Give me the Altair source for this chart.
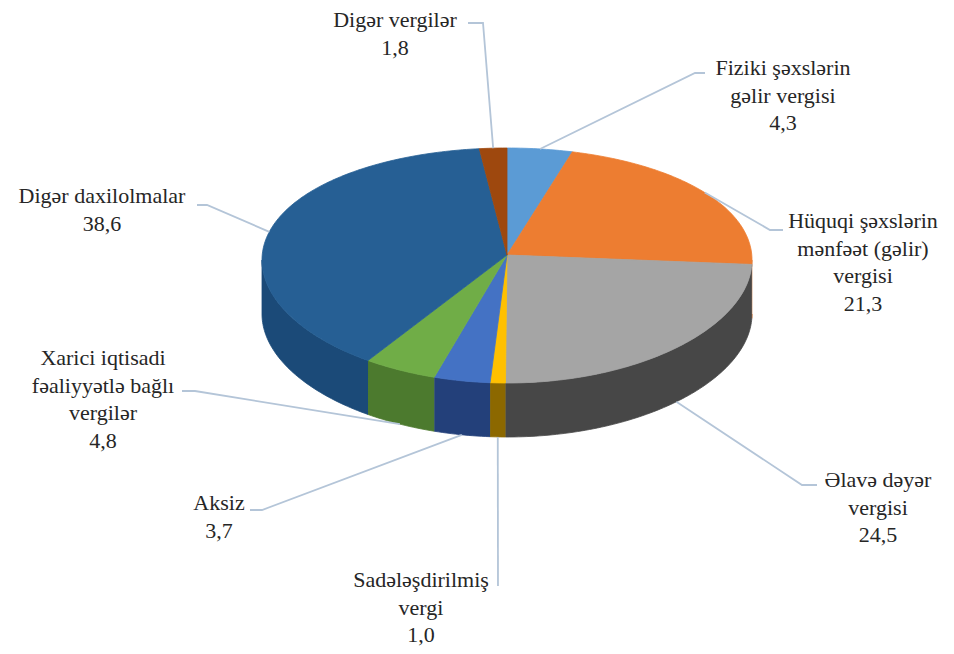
import math
import altair as alt
import pandas as pd

# ---------------- data ----------------
categories = [
    "Fiziki şəxslərin gəlir vergisi",
    "Hüquqi şəxslərin mənfəət (gəlir) vergisi",
    "Əlavə dəyər vergisi",
    "Sadələşdirilmiş vergi",
    "Aksiz",
    "Xarici iqtisadi fəaliyyətlə bağlı vergilər",
    "Digər daxilolmalar",
    "Digər vergilər",
]
values = [4.3, 21.3, 24.5, 1.0, 3.7, 4.8, 38.6, 1.8]
label_lines = [
    ["Fiziki şəxslərin", "gəlir vergisi"],
    ["Hüquqi şəxslərin", "mənfəət (gəlir)", "vergisi"],
    ["Əlavə dəyər", "vergisi"],
    ["Sadələşdirilmiş", "vergi"],
    ["Aksiz"],
    ["Xarici iqtisadi", "fəaliyyətlə bağlı", "vergilər"],
    ["Digər daxilolmalar"],
    ["Digər vergilər"],
]

# ---------------- styles / layout ----------------
top_colors = ["#5B9BD5", "#ED7D31", "#A5A5A5", "#FFC000", "#4472C4", "#70AD47", "#265F94", "#9E480E"]
wall_colors = ["#3F76A8", "#B65A1A", "#474747", "#8C6800", "#23407A", "#4C7A2E", "#1B4A78", "#7A3508"]
PIE = dict(cx=507, cy=265.5, a=245, b=117.5, persp=5.5, depth=54, apex=(507, 255))
label_pos = [(783, 75), (863, 228), (878, 487), (421, 587), (219, 510), (103, 365), (102, 203), (395, 27)]
leader_anchor = ["top", "top", "bottom", "bottom", "bottom", "bottom", "top", "top"]
leader_path = [
    [(695, 73), (705, 73)],
    [(770, 230), (783, 230)],
    [(802, 485), (817, 485)],
    [(498, 586)],
    [(262, 510), (250, 510)],
    [(195, 391), (182, 391)],
    [(207, 205), (197, 205)],
    [(483, 23), (468, 23)],
]
FONT = "Liberation Serif, DejaVu Serif, serif"
LEADER = "#B4C5D8"


def edge(t_deg, bottom=False):
    t = math.radians(t_deg)
    x = PIE["cx"] + PIE["a"] * math.sin(t)
    y = PIE["cy"] - PIE["b"] * math.cos(t) - PIE["persp"] * math.sin(t) ** 2
    if bottom:
        y += PIE["depth"]
    return x, y


total = sum(values)
starts, ends = [], []
acc = 0.0
for v in values:
    starts.append(acc / total * 360)
    acc += v
    ends.append(acc / total * 360)

wall_rows = []
for k, (s, e) in enumerate(zip(starts, ends)):
    a0, a1 = max(s, 90), min(e, 270)
    if a1 <= a0:
        continue
    n = max(2, int((a1 - a0) / 1.0) + 1)
    ts = [a0 + (a1 - a0) * j / (n - 1) for j in range(n)]
    pts = [edge(t) for t in ts] + [edge(t, True) for t in reversed(ts)]
    for i, (x, y) in enumerate(pts):
        wall_rows.append(dict(poly=f"w{k}", key=f"wall{k}", i=i, x=x, y=y))

top_rows = []
for k, (s, e) in enumerate(zip(starts, ends)):
    n = max(2, int((e - s) / 1.0) + 1)
    ts = [s + (e - s) * j / (n - 1) for j in range(n)]
    pts = [PIE["apex"]] + [edge(t) for t in ts] + [PIE["apex"]]
    for i, (x, y) in enumerate(pts):
        top_rows.append(dict(poly=f"t{k}", key=f"top{k}", i=i, x=x, y=y))

lead_rows = []
for k, (s, e) in enumerate(zip(starts, ends)):
    mid = (s + e) / 2
    p0 = edge(mid, leader_anchor[k] == "bottom")
    pts = [p0] + leader_path[k]
    for i, (x, y) in enumerate(pts):
        lead_rows.append(dict(poly=f"l{k}", i=i, x=x, y=y))

text_rows = []
for k in range(len(values)):
    lines = label_lines[k] + [f"{values[k]:.1f}".replace(".", ",")]
    text_rows.append(dict(x=label_pos[k][0], y=label_pos[k][1], txt="\n".join(lines)))

keys = [f"top{k}" for k in range(len(values))] + [f"wall{k}" for k in range(len(values))]
cols = top_colors + wall_colors
cscale = alt.Scale(domain=keys, range=cols)

X = alt.X("x:Q", scale=alt.Scale(domain=[8, 946], nice=False, zero=False), axis=None)
Y = alt.Y("y:Q", scale=alt.Scale(domain=[8, 646], nice=False, zero=False, reverse=True), axis=None)

walls = alt.Chart(pd.DataFrame(wall_rows)).mark_line(filled=True, strokeWidth=0.8).encode(
    x=X, y=Y, detail="poly:N", order="i:Q",
    color=alt.Color("key:N", scale=cscale, legend=None),
    stroke=alt.Stroke("key:N", scale=cscale, legend=None),
)
tops = alt.Chart(pd.DataFrame(top_rows)).mark_line(filled=True, strokeWidth=0.8).encode(
    x=X, y=Y, detail="poly:N", order="i:Q",
    color=alt.Color("key:N", scale=cscale, legend=None),
    stroke=alt.Stroke("key:N", scale=cscale, legend=None),
)
leaders = alt.Chart(pd.DataFrame(lead_rows)).mark_line(color=LEADER, strokeWidth=1.8).encode(
    x=X, y=Y, detail="poly:N", order="i:Q",
)
labels = alt.Chart(pd.DataFrame(text_rows)).mark_text(
    font=FONT, fontSize=22, color="#262626", align="center", baseline="alphabetic",
    lineBreak="\n", lineHeight=27.5,
).encode(x=X, y=Y, text="txt:N")

chart = alt.layer(walls, tops, leaders, labels).properties(
    width=938, height=638, padding=0, autosize=alt.AutoSizeParams(type="none"),
).configure_view(stroke=None)

chart.save("out.html", embed_options={"renderer": "svg", "actions": False})
